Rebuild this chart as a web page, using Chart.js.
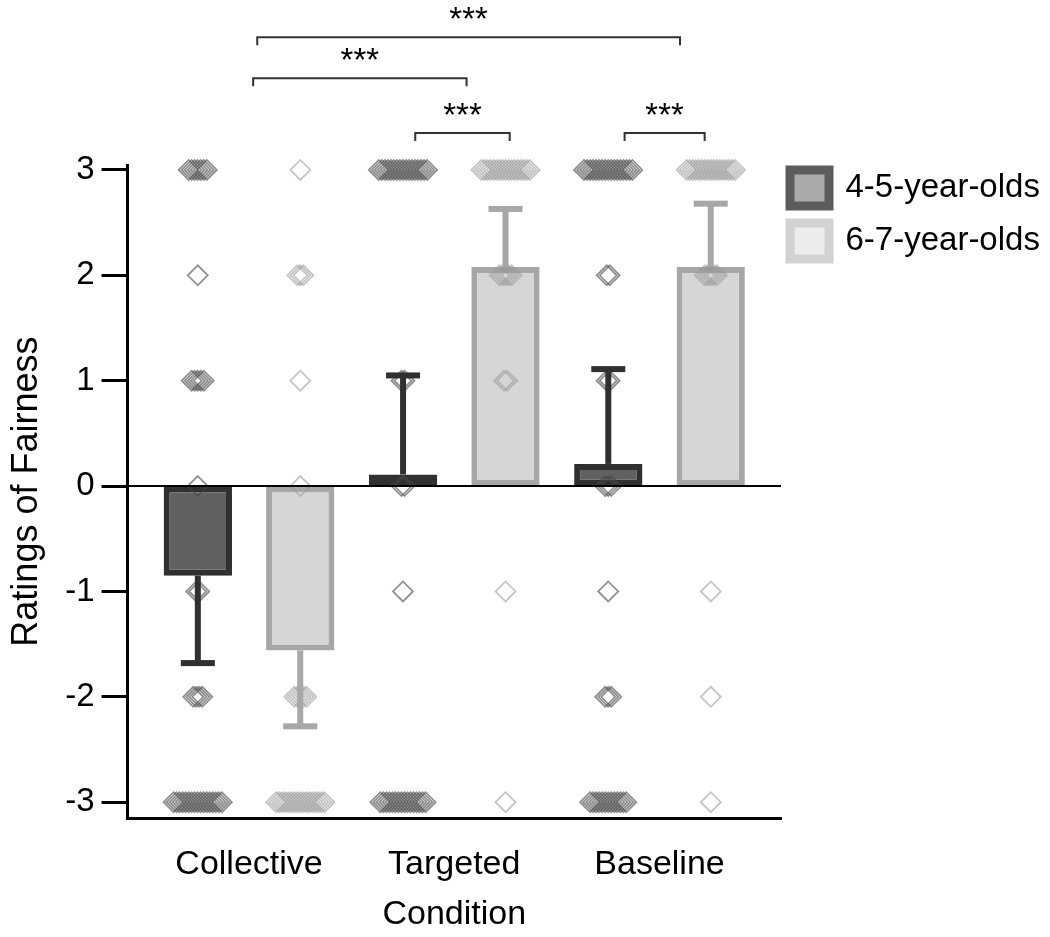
<!DOCTYPE html>
<html>
<head>
<meta charset="utf-8">
<script src="https://cdn.jsdelivr.net/npm/chart.js@4.4.1/dist/chart.umd.min.js"></script>
<style>
  html, body { margin: 0; padding: 0; background: #fff; }
  #wrap { width: 1050px; height: 937px; }
</style>
</head>
<body>
<div id="wrap"><canvas id="chart"></canvas></div>
<script>
const conditions = ['Collective', 'Targeted', 'Baseline'];
const ageGroups = ['4-5-year-olds', '6-7-year-olds'];
const yTicks = [-3, -2, -1, 0, 1, 2, 3];

// bar heights (means) and one-sided error bars (SD)
const meanYoung = [-0.85, 0.11, 0.21];
const meanOld = [-1.56, 2.08, 2.08];
const sdYoung = [0.83, 0.94, 0.90];
const sdOld = [0.72, 0.55, 0.60];

// how many children gave each rating, one row per condition
const ratingLevels = [3, 2, 1, 0, -1, -2, -3];
const countsYoung = [
  [7, 1, 5, 1, 2, 4, 17],
  [17, 0, 2, 2, 1, 0, 16],
  [17, 2, 2, 3, 1, 3, 13],
];
const countsOld = [
  [1, 3, 1, 1, 0, 5, 17],
  [17, 5, 2, 0, 1, 0, 1],
  [17, 5, 0, 0, 1, 1, 1],
];

// significance brackets: x in condition units, level in rating units
const bracketFrom = [0.04, 0.02, 0.81, 1.83];
const bracketTo = [2.10, 1.06, 1.27, 2.22];
const bracketLevel = [4.26, 3.87, 3.35, 3.35];
const bracketText = ['***', '***', '***', '***'];

const FONT = '"Liberation Sans", Arial, sans-serif';
const groupShift = 0.25;   // half the distance between the two bars of a condition
const jitterStep = 0.0147; // horizontal spread of equal ratings

function swarm(counts, shift) {
  const pts = [];
  counts.forEach((row, c) => {
    row.forEach((n, r) => {
      for (let k = 0; k < n; k++) {
        pts.push({ x: c + shift + (k - (n - 1) / 2) * jitterStep, y: ratingLevels[r] });
      }
    });
  });
  return pts;
}

const bars = (means) => means.map((v, i) => ({ x: i, y: v }));

const errorBars = {
  id: 'errorBars',
  afterDatasetsDraw(chart) {
    const { ctx } = chart;
    const y = chart.scales.y;
    chart.data.datasets.forEach((ds, di) => {
      if (!ds.errors) return;
      const meta = chart.getDatasetMeta(di);
      meta.data.forEach((bar, i) => {
        const v = ds.data[i].y;
        const yEnd = y.getPixelForValue(v + Math.sign(v) * ds.errors[i]);
        ctx.save();
        ctx.strokeStyle = ds.borderColor;
        ctx.fillStyle = ds.borderColor;
        ctx.lineWidth = 6;
        ctx.beginPath();
        ctx.moveTo(bar.x, bar.y);
        ctx.lineTo(bar.x, yEnd);
        ctx.stroke();
        ctx.fillRect(bar.x - 17, yEnd - 3, 34, 6);
        ctx.restore();
      });
    });
    // zero line
    const y0 = y.getPixelForValue(0);
    ctx.save();
    ctx.strokeStyle = '#000';
    ctx.lineWidth = 2;
    ctx.beginPath();
    ctx.moveTo(chart.chartArea.left, y0);
    ctx.lineTo(chart.chartArea.right, y0);
    ctx.stroke();
    ctx.restore();
  }
};

const brackets = {
  id: 'brackets',
  afterDraw(chart) {
    const { ctx } = chart;
    const x = chart.scales.x, y = chart.scales.y;
    ctx.save();
    ctx.strokeStyle = '#333';
    ctx.lineWidth = 2;
    ctx.fillStyle = '#000';
    ctx.font = '33px ' + FONT;
    ctx.textAlign = 'center';
    ctx.textBaseline = 'alphabetic';
    bracketFrom.forEach((from, i) => {
      const x1 = x.getPixelForValue(from);
      const x2 = x.getPixelForValue(bracketTo[i]);
      const yl = y.getPixelForValue(bracketLevel[i]);
      ctx.beginPath();
      ctx.moveTo(x1, yl + 8);
      ctx.lineTo(x1, yl);
      ctx.lineTo(x2, yl);
      ctx.lineTo(x2, yl + 8);
      ctx.stroke();
      ctx.fillText(bracketText[i], (x1 + x2) / 2, yl - 7);
    });
    ctx.restore();
  }
};

// the legend sits a little higher and further left than Chart.js puts it
const legendNudge = {
  id: 'legendNudge',
  afterLayout(chart) {
    const lg = chart.legend;
    lg.top -= 12;
    lg.bottom -= 12;
    lg.left -= 8;
    lg.right = chart.width;
    lg.width = lg.right - lg.left;
  }
};

const legendFill = ['#a9a9a9', '#ececec'];
const legendStroke = ['#5c5c5c', '#d2d2d2'];

new Chart(document.getElementById('chart'), {
  type: 'bar',
  data: {
    datasets: [
      {
        type: 'scatter', label: 'young ratings', data: swarm(countsYoung, -groupShift),
        pointStyle: 'rectRot', pointRadius: 10, pointBorderWidth: 1.8,
        pointBorderColor: 'rgba(70,70,70,0.6)', pointBackgroundColor: 'rgba(0,0,0,0)',
        order: 0, clip: false
      },
      {
        type: 'scatter', label: 'old ratings', data: swarm(countsOld, groupShift),
        pointStyle: 'rectRot', pointRadius: 10, pointBorderWidth: 1.8,
        pointBorderColor: 'rgba(150,150,150,0.55)', pointBackgroundColor: 'rgba(0,0,0,0)',
        order: 0, clip: false
      },
      {
        label: ageGroups[0], data: bars(meanYoung), errors: sdYoung,
        backgroundColor: '#616161', borderColor: '#303030', borderWidth: 6,
        borderSkipped: false, order: 1
      },
      {
        label: ageGroups[1], data: bars(meanOld), errors: sdOld,
        backgroundColor: '#d6d6d6', borderColor: '#a7a7a7', borderWidth: 6,
        borderSkipped: false, order: 1
      }
    ]
  },
  options: {
    responsive: true,
    maintainAspectRatio: false,
    animation: false,
    events: [],
    categoryPercentage: 0.998,
    barPercentage: 0.667,
    layout: { padding: { top: 165, left: 1, right: 9, bottom: 1 } },
    scales: {
      x: {
        type: 'linear', min: -0.592, max: 2.592, offset: false,
        afterBuildTicks: (axis) => { axis.ticks = conditions.map((_, i) => ({ value: i })); },
        grid: { display: false, drawTicks: false },
        border: { display: true, color: '#000', width: 3 },
        ticks: {
          callback: (v) => conditions[v] ?? '',
          color: '#000', font: { family: FONT, size: 34 }, padding: 26,
          maxRotation: 0, autoSkip: false
        },
        title: {
          display: true, text: 'Condition', color: '#000',
          font: { family: FONT, size: 34, lineHeight: 1 }, padding: { top: -13, bottom: 4 }
        }
      },
      y: {
        min: -3.152, max: 3.047,
        afterBuildTicks: (axis) => { axis.ticks = yTicks.map((v) => ({ value: v })); },
        grid: { display: true, drawOnChartArea: false, drawTicks: true, tickLength: 26, tickColor: '#000', tickWidth: 3 },
        border: { display: true, color: '#000', width: 3 },
        ticks: { color: '#000', font: { family: FONT, size: 33 }, padding: 7 },
        title: {
          display: true, text: 'Ratings of Fairness', color: '#000',
          font: { family: FONT, size: 36 }, padding: { top: 4, bottom: 10 }
        }
      }
    },
    plugins: {
      tooltip: { enabled: false },
      legend: {
        position: 'right', align: 'start',
        labels: {
          boxWidth: 39, boxHeight: 36, padding: 17, color: '#000',
          font: { family: FONT, size: 33 },
          generateLabels: () => ageGroups.map((name, i) => ({
            text: name, fillStyle: legendFill[i], strokeStyle: legendStroke[i],
            lineWidth: 9, fontColor: '#000', hidden: false, datasetIndex: i + 2
          }))
        }
      }
    }
  },
  plugins: [errorBars, brackets, legendNudge]
});
</script>
</body>
</html>
